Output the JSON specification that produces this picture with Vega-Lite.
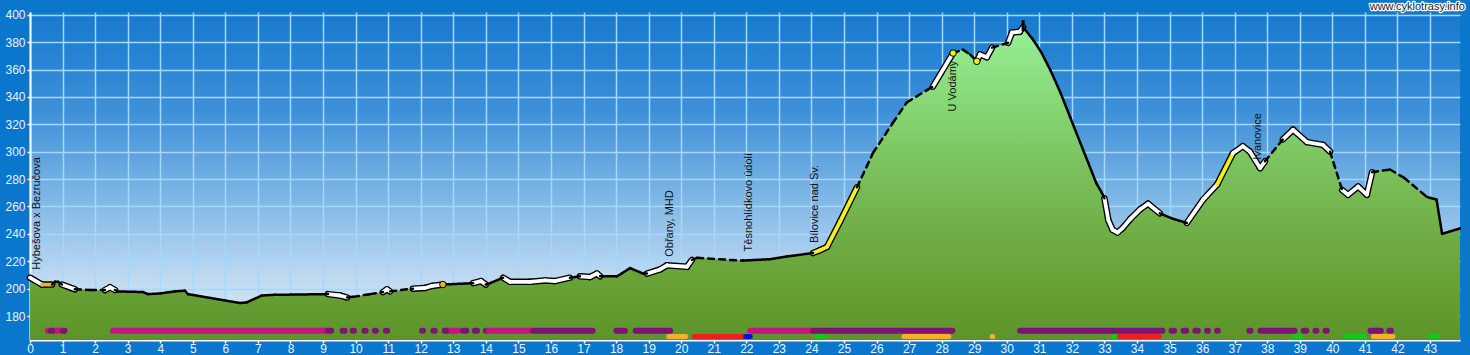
{
  "$schema": "https://vega.github.io/schema/vega-lite/v6.json",
  "width": 1430,
  "height": 328,
  "autosize": {"type": "none"},
  "padding": {"left": 30, "top": 12, "right": 10, "bottom": 15},
  "datasets": {
    "prof": [
      {"km":0,"e":208,"st":"white"},{"km":0.37,"e":203,"st":"orange"},{"km":0.68,"e":203,"st":"solid"},{"km":0.77,"e":205,"st":"solid"},{"km":0.86,"e":205,"st":"solid"},{"km":0.98,"e":203,"st":"white"},{"km":1.38,"e":199.5,"st":"dash"},{"km":1.84,"e":199,"st":"dash"},{"km":2.3,"e":199,"st":"white"},{"km":2.46,"e":201,"st":"white"},{"km":2.61,"e":199,"st":"solid"},{"km":2.7,"e":198,"st":"solid"},{"km":3.47,"e":197.5,"st":"solid"},{"km":3.62,"e":196,"st":"solid"},{"km":4.0,"e":196.5,"st":"solid"},{"km":4.45,"e":198,"st":"solid"},{"km":4.76,"e":198.5,"st":"solid"},{"km":4.85,"e":196,"st":"solid"},{"km":6.45,"e":189.5,"st":"solid"},{"km":6.66,"e":190,"st":"solid"},{"km":7.12,"e":195,"st":"solid"},{"km":7.52,"e":195.5,"st":"solid"},{"km":9.15,"e":196,"st":"white"},{"km":9.52,"e":195,"st":"white"},{"km":9.74,"e":193.5,"st":"dash"},{"km":9.92,"e":194,"st":"dash"},{"km":10.44,"e":196,"st":"dash"},{"km":10.84,"e":197.5,"st":"white"},{"km":10.96,"e":199.5,"st":"white"},{"km":11.06,"e":198,"st":"dash"},{"km":11.76,"e":200,"st":"white"},{"km":12.13,"e":200.5,"st":"white"},{"km":12.35,"e":202,"st":"white"},{"km":12.68,"e":203,"st":"solid"},{"km":13.61,"e":204,"st":"white"},{"km":13.85,"e":205.5,"st":"white"},{"km":14.0,"e":203,"st":"solid"},{"km":14.13,"e":204,"st":"solid"},{"km":14.53,"e":208,"st":"white"},{"km":14.74,"e":205,"st":"white"},{"km":15.36,"e":205,"st":"white"},{"km":15.82,"e":206,"st":"white"},{"km":16.12,"e":205.5,"st":"white"},{"km":16.58,"e":208,"st":"solid"},{"km":16.89,"e":209,"st":"white"},{"km":17.2,"e":208.5,"st":"white"},{"km":17.41,"e":211,"st":"white"},{"km":17.51,"e":209,"st":"solid"},{"km":18.03,"e":209,"st":"solid"},{"km":18.43,"e":215,"st":"solid"},{"km":18.83,"e":211,"st":"solid"},{"km":18.95,"e":211,"st":"white"},{"km":19.35,"e":214,"st":"white"},{"km":19.56,"e":217,"st":"white"},{"km":20.18,"e":216,"st":"white"},{"km":20.33,"e":221,"st":"dash"},{"km":20.49,"e":222.5,"st":"dash"},{"km":21.5,"e":221,"st":"dash"},{"km":21.9,"e":220.5,"st":"solid"},{"km":22.73,"e":221.5,"st":"solid"},{"km":23.25,"e":223.5,"st":"solid"},{"km":24.05,"e":226,"st":"yellow"},{"km":24.26,"e":228,"st":"yellow"},{"km":24.48,"e":230.5,"st":"yellow"},{"km":24.88,"e":249,"st":"yellow"},{"km":25.4,"e":274,"st":"dash"},{"km":25.89,"e":299,"st":"dash"},{"km":26.5,"e":321,"st":"dash"},{"km":26.93,"e":336,"st":"dash"},{"km":27.55,"e":345,"st":"dash"},{"km":27.73,"e":347.5,"st":"white"},{"km":28.35,"e":372,"st":"dash"},{"km":28.65,"e":374.5,"st":"dash"},{"km":28.87,"e":371,"st":"dash"},{"km":29.08,"e":366,"st":"white"},{"km":29.18,"e":371,"st":"white"},{"km":29.39,"e":369,"st":"white"},{"km":29.55,"e":376,"st":"dash"},{"km":30.04,"e":379.5,"st":"white"},{"km":30.16,"e":387,"st":"white"},{"km":30.4,"e":387.6,"st":"white"},{"km":30.5,"e":391,"st":"solid"},{"km":30.8,"e":382,"st":"solid"},{"km":31.05,"e":373,"st":"solid"},{"km":31.35,"e":359,"st":"solid"},{"km":31.65,"e":343,"st":"solid"},{"km":31.95,"e":325,"st":"solid"},{"km":32.25,"e":307,"st":"solid"},{"km":32.5,"e":292,"st":"solid"},{"km":32.75,"e":277,"st":"solid"},{"km":32.92,"e":270,"st":"solid"},{"km":33.0,"e":266,"st":"white"},{"km":33.12,"e":250,"st":"white"},{"km":33.25,"e":243,"st":"white"},{"km":33.4,"e":241,"st":"white"},{"km":33.55,"e":244,"st":"white"},{"km":33.8,"e":251,"st":"white"},{"km":34.1,"e":258,"st":"white"},{"km":34.34,"e":262,"st":"white"},{"km":34.7,"e":255,"st":"solid"},{"km":35.1,"e":251,"st":"solid"},{"km":35.53,"e":248,"st":"white"},{"km":36.03,"e":265,"st":"white"},{"km":36.46,"e":276,"st":"yellow"},{"km":36.95,"e":299,"st":"white"},{"km":37.25,"e":304,"st":"white"},{"km":37.47,"e":300,"st":"white"},{"km":37.78,"e":288,"st":"white"},{"km":37.93,"e":293,"st":"dash"},{"km":38.48,"e":309,"st":"white"},{"km":38.79,"e":316,"st":"white"},{"km":39.22,"e":307,"st":"white"},{"km":39.71,"e":305,"st":"white"},{"km":39.93,"e":300,"st":"dash"},{"km":40.3,"e":272,"st":"white"},{"km":40.48,"e":268.6,"st":"white"},{"km":40.79,"e":274.5,"st":"white"},{"km":41.06,"e":268.6,"st":"white"},{"km":41.22,"e":285,"st":"dash"},{"km":41.77,"e":287,"st":"dash"},{"km":42.2,"e":281,"st":"dash"},{"km":42.9,"e":267,"st":"solid"},{"km":43.2,"e":265,"st":"solid"},{"km":43.37,"e":240,"st":"solid"},{"km":43.92,"e":244,"st":"solid"}
    ],
    "bars": [
      {"a":0.55,"b":1.04,"k":"m","row":"u"},{"a":0.64,"b":0.68,"k":"p","row":"u"},{"a":1.02,"b":1.06,"k":"p","row":"u"},{"a":2.55,"b":9.1,"k":"m","row":"u"},{"a":9.15,"b":9.25,"k":"p","row":"u"},{"a":9.6,"b":9.66,"k":"p","row":"u"},{"a":9.91,"b":9.95,"k":"p","row":"u"},{"a":10.27,"b":10.31,"k":"p","row":"u"},{"a":10.59,"b":10.62,"k":"p","row":"u"},{"a":10.93,"b":10.97,"k":"p","row":"u"},{"a":12.04,"b":12.07,"k":"p","row":"u"},{"a":12.39,"b":12.43,"k":"p","row":"u"},{"a":12.74,"b":13.15,"k":"m","row":"u"},{"a":12.74,"b":12.78,"k":"p","row":"u"},{"a":13.3,"b":13.4,"k":"p","row":"u"},{"a":13.66,"b":13.73,"k":"p","row":"u"},{"a":14.0,"b":14.04,"k":"p","row":"u"},{"a":14.1,"b":15.4,"k":"m","row":"u"},{"a":15.46,"b":17.28,"k":"p","row":"u"},{"a":18.01,"b":18.27,"k":"p","row":"u"},{"a":18.6,"b":19.66,"k":"p","row":"u"},{"a":22.12,"b":24.05,"k":"m","row":"u"},{"a":24.05,"b":28.33,"k":"p","row":"u"},{"a":30.41,"b":34.78,"k":"p","row":"u"},{"a":35.06,"b":35.14,"k":"p","row":"u"},{"a":35.43,"b":35.51,"k":"p","row":"u"},{"a":35.79,"b":35.87,"k":"p","row":"u"},{"a":36.15,"b":36.18,"k":"p","row":"u"},{"a":36.46,"b":36.48,"k":"p","row":"u"},{"a":37.45,"b":37.49,"k":"p","row":"u"},{"a":37.79,"b":38.84,"k":"p","row":"u"},{"a":39.12,"b":39.2,"k":"p","row":"u"},{"a":39.48,"b":39.51,"k":"p","row":"u"},{"a":39.79,"b":39.83,"k":"p","row":"u"},{"a":41.17,"b":41.49,"k":"p","row":"u"},{"a":41.75,"b":41.8,"k":"p","row":"u"},
      {"a":19.62,"b":20.14,"k":"o","row":"l"},{"a":20.4,"b":21.92,"k":"r","row":"l"},{"a":21.98,"b":22.12,"k":"b","row":"l"},{"a":24.19,"b":24.41,"k":"g","row":"l"},{"a":26.84,"b":28.22,"k":"o","row":"l"},{"a":29.55,"b":29.57,"k":"o","row":"l"},{"a":33.3,"b":33.38,"k":"g","row":"l"},{"a":33.46,"b":34.68,"k":"r","row":"l"},{"a":38.8,"b":39.05,"k":"g","row":"l"},{"a":40.41,"b":40.98,"k":"g","row":"l"},{"a":41.26,"b":41.86,"k":"o","row":"l"},{"a":43.01,"b":43.22,"k":"g","row":"l"}
    ],
    "pts": [
      {"km":12.68,"e":203,"k":"o"},{"km":28.35,"e":372,"k":"y"},{"km":29.08,"e":366,"k":"y"}
    ],
    "spike": [{"km":30.5,"e1":388,"e2":396}],
    "lbl": [
      {"km":0.215,"e":213.8,"name":"Hybešova x Bezručova"},
      {"km":19.66,"e":223.3,"name":"Obřany, MHD"},
      {"km":22.08,"e":227.2,"name":"Těsnohlídkovo údolí"},
      {"km":24.11,"e":233.3,"name":"Bílovice nad Sv."},
      {"km":28.36,"e":329.4,"name":"U Vodámy"},
      {"km":37.72,"e":294.2,"name":"Ivanovice"}
    ],
    "wm": [{"km":44.07,"e":405.8,"t":"www.cyklotrasy.info"}]
  },
  "resolve": {"scale": {"color": "independent", "fill": "independent", "strokeDash": "independent"}},
  "layer": [
    {
      "data": {"name": "prof"},
      "mark": {"type": "area", "fill": {"gradient": "linear", "x1": 0, "y1": 0, "x2": 0, "y2": 1, "stops": [
        {"offset": 0, "color": "#96f096"}, {"offset": 0.35, "color": "#80cc68"}, {"offset": 0.65, "color": "#70ae46"}, {"offset": 0.85, "color": "#66a034"}, {"offset": 1, "color": "#5c942a"}]}},
      "encoding": {
        "x": {"field": "km", "type": "quantitative", "title": null, "scale": {"domain": [0, 43.92], "nice": false, "zero": false}},
        "y": {"field": "e", "type": "quantitative", "title": null, "scale": {"domain": [162.5, 402], "nice": false, "zero": false}},
        "y2": {"datum": 162.5}
      }
    },
    {
      "data": {"name": "prof"},
      "transform": [
        {"window": [{"op": "lead", "field": "km", "as": "km2"}, {"op": "lead", "field": "e", "as": "e2"}], "sort": [{"field": "km", "order": "ascending"}]},
        {"filter": "isValid(datum.km2) && (datum.st == 'white' || datum.st == 'orange' || datum.st == 'yellow')"}
      ],
      "mark": {"type": "rule", "color": "#000000", "strokeWidth": 6.5, "strokeCap": "round"},
      "encoding": {
        "x": {"field": "km", "type": "quantitative", "title": null},
        "y": {"field": "e", "type": "quantitative", "title": null},
        "x2": {"field": "km2"},
        "y2": {"field": "e2"}
      }
    },
    {
      "data": {"name": "prof"},
      "transform": [
        {"window": [{"op": "lead", "field": "km", "as": "km2"}, {"op": "lead", "field": "e", "as": "e2"}], "sort": [{"field": "km", "order": "ascending"}]},
        {"filter": "isValid(datum.km2) && (datum.st == 'white' || datum.st == 'orange' || datum.st == 'yellow')"}
      ],
      "mark": {"type": "rule", "strokeWidth": 3.8, "strokeCap": "round"},
      "encoding": {
        "x": {"field": "km", "type": "quantitative", "title": null},
        "y": {"field": "e", "type": "quantitative", "title": null},
        "x2": {"field": "km2"},
        "y2": {"field": "e2"},
        "color": {"field": "st", "type": "nominal", "legend": null, "scale": {"domain": ["white", "orange", "yellow"], "range": ["#ffffff", "#f0b030", "#f4f020"]}}
      }
    },
    {
      "data": {"name": "prof"},
      "transform": [
        {"window": [{"op": "lead", "field": "km", "as": "km2"}, {"op": "lead", "field": "e", "as": "e2"}], "sort": [{"field": "km", "order": "ascending"}]},
        {"filter": "isValid(datum.km2) && (datum.st == 'solid' || datum.st == 'dash')"}
      ],
      "mark": {"type": "rule", "color": "#000000", "strokeWidth": 2.5, "strokeCap": "round"},
      "encoding": {
        "x": {"field": "km", "type": "quantitative", "title": null},
        "y": {"field": "e", "type": "quantitative", "title": null},
        "x2": {"field": "km2"},
        "y2": {"field": "e2"},
        "strokeDash": {"field": "st", "type": "nominal", "legend": null, "scale": {"domain": ["solid", "dash"], "range": [[1, 0], [6, 5]]}}
      }
    },
    {
      "data": {"name": "pts"},
      "mark": {"type": "circle", "size": 42, "opacity": 1, "stroke": "#000000", "strokeWidth": 1},
      "encoding": {
        "x": {"field": "km", "type": "quantitative", "title": null},
        "y": {"field": "e", "type": "quantitative", "title": null},
        "fill": {"field": "k", "type": "nominal", "legend": null, "scale": {"domain": ["o", "y"], "range": ["#f0b030", "#f4f020"]}}
      }
    },
    {
      "data": {"name": "spike"},
      "mark": {"type": "rule", "color": "#000000", "strokeWidth": 3},
      "encoding": {
        "x": {"field": "km", "type": "quantitative", "title": null},
        "y": {"field": "e1", "type": "quantitative", "title": null},
        "y2": {"field": "e2"}
      }
    },
    {
      "data": {"name": "bars"},
      "transform": [{"filter": "datum.row == 'u'"}],
      "mark": {"type": "rule", "strokeWidth": 6, "strokeCap": "round"},
      "encoding": {
        "x": {"field": "a", "type": "quantitative", "title": null},
        "x2": {"field": "b"},
        "y": {"datum": 169.3, "type": "quantitative", "title": null},
        "color": {"field": "k", "type": "nominal", "legend": null, "scale": {"domain": ["m", "p", "o", "r", "b", "g"], "range": ["#c8147c", "#7e1276", "#f2b22c", "#e82020", "#0810d8", "#14c814"]}}
      }
    },
    {
      "data": {"name": "bars"},
      "transform": [{"filter": "datum.row == 'l'"}],
      "mark": {"type": "rule", "strokeWidth": 5, "strokeCap": "round"},
      "encoding": {
        "x": {"field": "a", "type": "quantitative", "title": null},
        "x2": {"field": "b"},
        "y": {"datum": 165, "type": "quantitative", "title": null},
        "color": {"field": "k", "type": "nominal", "legend": null, "scale": {"domain": ["m", "p", "o", "r", "b", "g"], "range": ["#c8147c", "#7e1276", "#f2b22c", "#e82020", "#0810d8", "#14c814"]}}
      }
    },
    {
      "data": {"name": "lbl"},
      "mark": {"type": "text", "angle": 270, "align": "left", "baseline": "middle", "font": "Liberation Sans", "fontSize": 11, "color": "#111111"},
      "encoding": {
        "x": {"field": "km", "type": "quantitative", "title": null},
        "y": {"field": "e", "type": "quantitative", "title": null},
        "text": {"field": "name"}
      }
    },
    {
      "data": {"name": "wm"},
      "mark": {"type": "text", "align": "right", "baseline": "middle", "font": "Liberation Sans", "fontSize": 11, "fill": "#ffffff", "stroke": "#ffffff", "strokeWidth": 2.5, "strokeJoin": "round"},
      "encoding": {
        "x": {"field": "km", "type": "quantitative", "title": null},
        "y": {"field": "e", "type": "quantitative", "title": null},
        "text": {"field": "t"}
      }
    },
    {
      "data": {"name": "wm"},
      "mark": {"type": "text", "align": "right", "baseline": "middle", "font": "Liberation Sans", "fontSize": 11, "fill": "#222222"},
      "encoding": {
        "x": {"field": "km", "type": "quantitative", "title": null},
        "y": {"field": "e", "type": "quantitative", "title": null},
        "text": {"field": "t"}
      }
    }
  ],
  "config": {
    "background": "#0a76cc",
    "view": {"stroke": null, "fill": {"gradient": "linear", "x1": 0, "y1": 0, "x2": 0, "y2": 1, "stops": [
      {"offset": 0, "color": "#1679cf"}, {"offset": 0.3, "color": "#3d90d8"}, {"offset": 0.55, "color": "#7ab4e4"}, {"offset": 0.8, "color": "#bcd8f0"}, {"offset": 1, "color": "#e4eef8"}]}},
    "axis": {
      "grid": true, "gridColor": "#a4d8ff", "gridWidth": 1.5, "gridOpacity": 1,
      "domainColor": "#ffffff", "domainWidth": 2,
      "tickColor": "#ffffff", "tickSize": 3, "tickWidth": 1.5,
      "labelColor": "#e8f4ff", "labelFont": "Liberation Sans", "labelFontSize": 12, "labelPadding": 2,
      "labelOverlap": false, "labelFlush": false
    },
    "axisX": {"tickCount": 44, "labelPadding": 0},
    "axisY": {"tickCount": 12}
  }
}
